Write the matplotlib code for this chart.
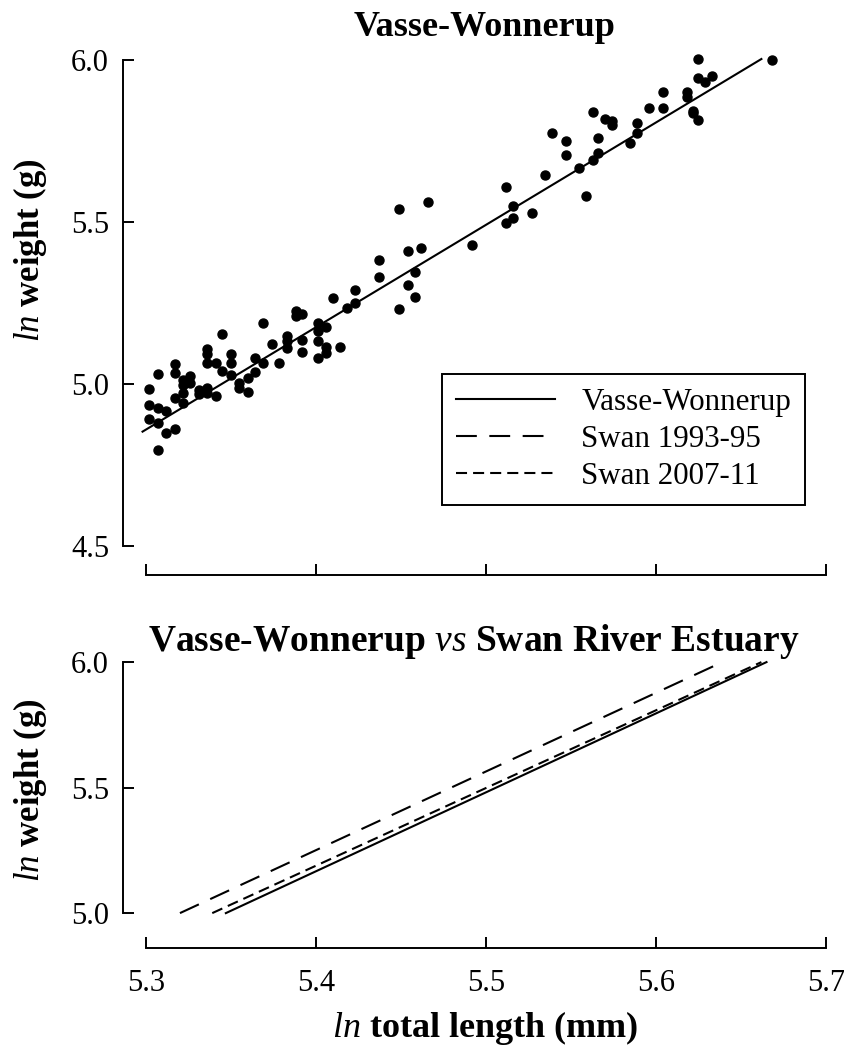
import numpy as np
import matplotlib
matplotlib.use('Agg')
import matplotlib.pyplot as plt
from matplotlib.ticker import FormatStrFormatter

plt.rcParams['font.family'] = ['Liberation Serif', 'DejaVu Serif']
plt.rcParams['mathtext.fontset'] = 'custom'
plt.rcParams['mathtext.rm'] = 'Liberation Serif'
plt.rcParams['mathtext.it'] = 'Liberation Serif:italic'

### Vasse-Wonnerup fish: ln total length (mm) vs ln weight (g)
ln_len = [5.345, 5.336, 5.336, 5.350, 5.336, 5.341, 5.350, 5.317, 5.307, 5.317,
          5.345, 5.350, 5.326, 5.322, 5.326, 5.322, 5.355, 5.355, 5.360, 5.302,
          5.322, 5.331, 5.336, 5.331, 5.336, 5.341, 5.317, 5.322, 5.302, 5.307,
          5.312, 5.302, 5.307, 5.317, 5.312, 5.307, 5.360,
          5.364, 5.364, 5.369, 5.369, 5.374, 5.378, 5.383, 5.383, 5.383, 5.388,
          5.388, 5.392, 5.392, 5.392, 5.401, 5.401, 5.401, 5.401, 5.406, 5.406,
          5.406, 5.414, 5.410, 5.418,
          5.423, 5.423, 5.437, 5.437, 5.449, 5.449, 5.454, 5.454, 5.458, 5.458,
          5.462, 5.466, 5.492,
          5.512, 5.516, 5.516, 5.512, 5.527, 5.535, 5.539, 5.547, 5.547, 5.555,
          5.559, 5.563, 5.563, 5.566, 5.566, 5.570, 5.574, 5.574, 5.585, 5.589,
          5.589, 5.596, 5.604, 5.604, 5.618, 5.618, 5.622, 5.622, 5.625, 5.625,
          5.629, 5.633, 5.625, 5.668]
ln_wt = [5.153, 5.107, 5.093, 5.092, 5.064, 5.066, 5.066, 5.061, 5.030, 5.033,
         5.041, 5.028, 5.025, 5.012, 5.002, 4.997, 5.002, 4.987, 4.976, 4.984,
         4.973, 4.981, 4.987, 4.969, 4.971, 4.963, 4.956, 4.942, 4.935, 4.925,
         4.917, 4.891, 4.881, 4.860, 4.848, 4.796, 5.018,
         5.079, 5.038, 5.189, 5.064, 5.123, 5.064, 5.148, 5.133, 5.112, 5.225,
         5.210, 5.215, 5.136, 5.100, 5.189, 5.164, 5.133, 5.079, 5.177, 5.115,
         5.097, 5.115, 5.266, 5.236,
         5.290, 5.249, 5.383, 5.331, 5.541, 5.232, 5.411, 5.306, 5.345, 5.269,
         5.421, 5.562, 5.428,
         5.609, 5.549, 5.511, 5.498, 5.527, 5.645, 5.774, 5.750, 5.707, 5.666,
         5.581, 5.840, 5.691, 5.760, 5.712, 5.817, 5.812, 5.799, 5.743, 5.806,
         5.776, 5.851, 5.902, 5.851, 5.902, 5.887, 5.844, 5.835, 5.815, 5.944,
         5.933, 5.951, 6.002, 6.000]

# fitted line for the top panel
fit_len = [5.298, 5.662]
fit_wt = [4.853, 6.003]

# regressions compared in the bottom panel (ln weight 5 -> 6)
cmp_wt = [5.0, 6.0]
vasse_len = [5.347, 5.665]
swan93_len = [5.320, 5.639]
swan07_len = [5.339, 5.662]

series = ['Vasse-Wonnerup', 'Swan 1993-95', 'Swan 2007-11']

### Figure setup
W, H = 845.0, 1051.0
fig = plt.figure(figsize=(W / 100, H / 100), dpi=100)

def add_ax(left, top, right, bottom):
	return fig.add_axes([left / W, 1 - bottom / H, (right - left) / W, (bottom - top) / H])

ax1 = add_ax(123, 53.5, 834.5, 575)
ax2 = add_ax(123, 659.6, 834.5, 948)

solid = '-'
longdash = (0, (10, 6))
shortdash = (0, (5.3, 2.9))

# top: scatter + fit
ax1.plot(ln_len, ln_wt, 'o', color='black', ms=6.5, clip_on=False)
ax1.plot(fit_len, fit_wt, color='black', lw=1.5, ls=solid)
ax1.set_xlim(5.2865, 5.705)
ax1.set_ylim(4.4105, 6.02)

# bottom: the three regressions
h1, = ax2.plot(vasse_len, cmp_wt, color='black', lw=1.5, ls=solid)
h2, = ax2.plot(swan93_len, cmp_wt, color='black', lw=1.5, ls=longdash)
h3, = ax2.plot(swan07_len, cmp_wt, color='black', lw=1.5, ls=shortdash)
ax2.set_xlim(5.2865, 5.705)
ax2.set_ylim(4.861, 6.01)

for ax, ylo in ((ax1, 4.5), (ax2, 5.0)):
	ax.spines['top'].set_visible(False)
	ax.spines['right'].set_visible(False)
	ax.spines['left'].set_bounds(ylo, 6.0)
	ax.spines['bottom'].set_bounds(5.3, 5.7)
	for s in ('left', 'bottom'):
		ax.spines[s].set_linewidth(1.4)
	ax.set_xticks([5.3, 5.4, 5.5, 5.6, 5.7])
	ax.set_yticks(np.arange(ylo, 6.01, 0.5))
	ax.yaxis.set_major_formatter(FormatStrFormatter('%.1f'))
	ax.xaxis.set_major_formatter(FormatStrFormatter('%.1f'))
	ax.tick_params(direction='in', length=8, width=1.4, labelsize=22)
	ax.tick_params(axis='y', pad=10)
	ax.tick_params(axis='x', pad=15)

ax1.tick_params(axis='x', labelbottom=False)

leg = ax1.legend([h1, h2, h3], series, loc='upper left', bbox_to_anchor=(442 / W, 1 - 374 / H),
                 bbox_transform=fig.transFigure, fontsize=22.3, handlelength=3.2, handletextpad=0.85,
                 labelspacing=0.26, borderpad=0.45, fancybox=False, framealpha=1, borderaxespad=0)
leg.get_frame().set_edgecolor('black')
leg.get_frame().set_linewidth(1.4)

### Text
fig.text(485 / W, 1 - 36 / H, 'Vasse-Wonnerup', ha='center', va='baseline', fontsize=26, fontweight='bold')
fig.text(474 / W, 1 - 651 / H, r'Vasse-Wonnerup $vs$ Swan River Estuary', ha='center', va='baseline',
         fontsize=27, fontweight='bold')
fig.text(485 / W, 1 - 1037 / H, r'$ln$ total length (mm)', ha='center', va='baseline', fontsize=26, fontweight='bold')
fig.text(30 / W, 1 - 250 / H, r'$ln$ weight (g)', ha='center', va='center', rotation=90, fontsize=25, fontweight='bold')
fig.text(30 / W, 1 - 790 / H, r'$ln$ weight (g)', ha='center', va='center', rotation=90, fontsize=25, fontweight='bold')

fig.savefig('out.png', dpi=100)
